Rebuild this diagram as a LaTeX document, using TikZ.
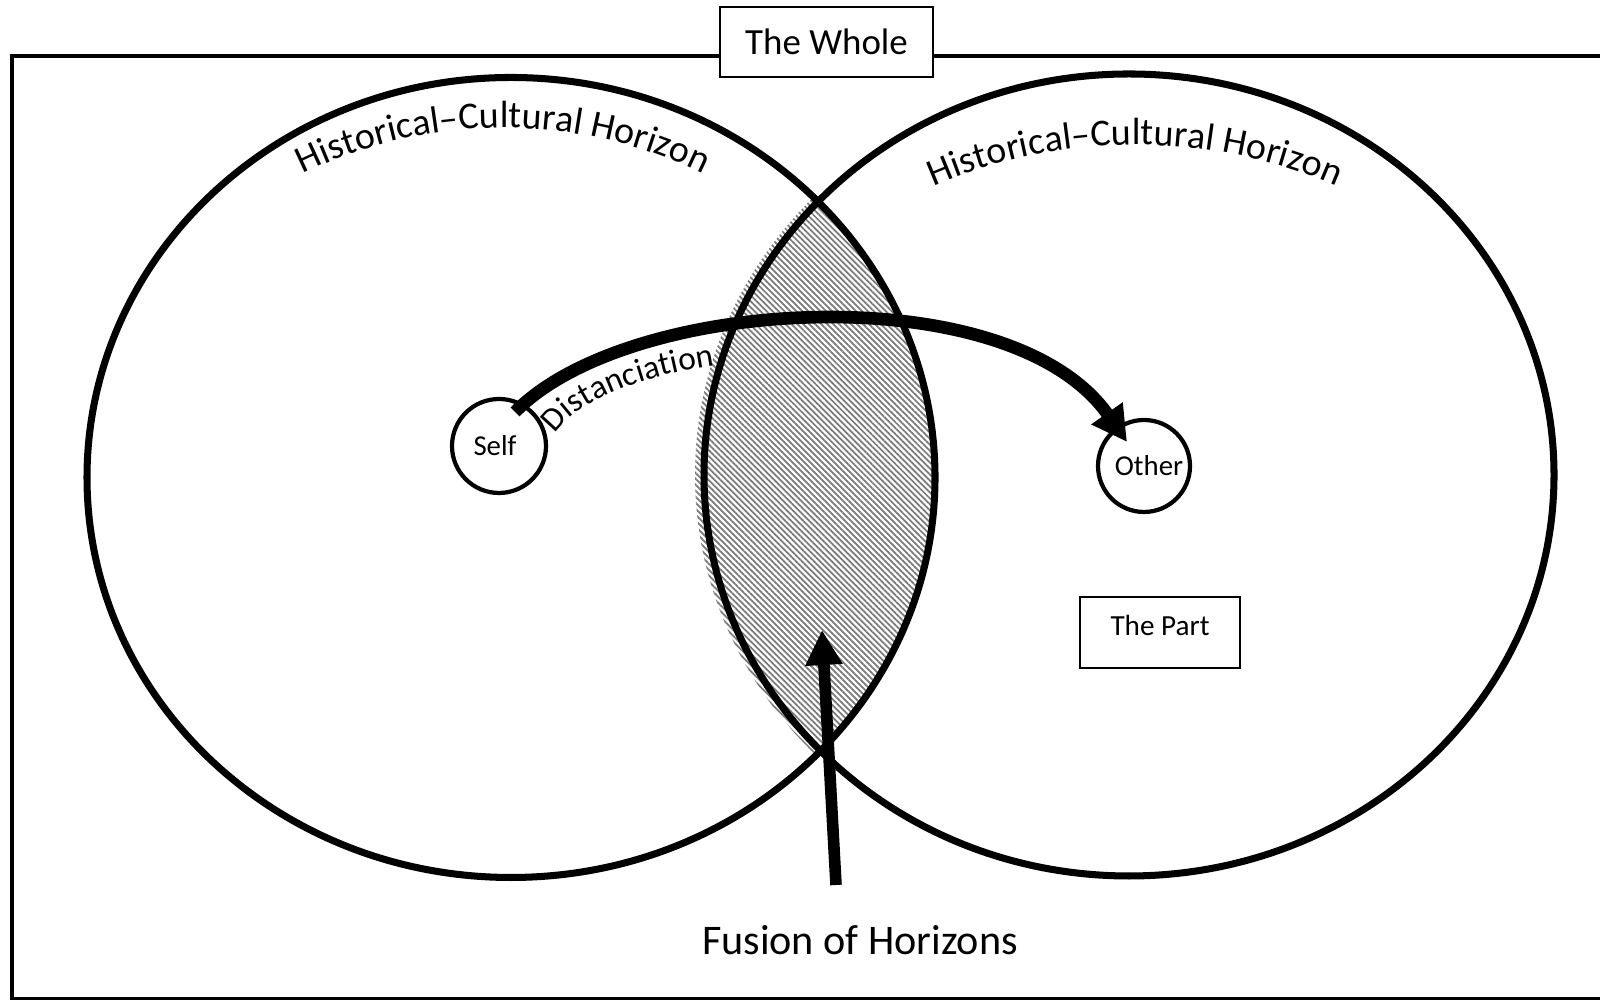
\documentclass[tikz,border=0pt]{standalone}
\usepackage{fontspec}
\setmainfont{Carlito}
\usepackage{tikz}
\usetikzlibrary{arrows.meta,positioning,patterns.meta,decorations.text}
\definecolor{hatchgray}{HTML}{7A7A7A}
\newcommand{\hcfont}{\fontsize{10.8pt}{13pt}\selectfont}
\tikzset{
  hframe/.style={line width=1.4pt,draw=black},
  hring/.style={line width=2pt,draw=black},
  hlens/.style={pattern={Lines[angle=-45,distance=1.2pt,line width=0.5pt]},pattern color=hatchgray},
  hrect/.style={draw=black,fill=white,line width=0.6pt,inner sep=0pt,align=center},
  hcirc/.style={circle,draw=black,fill=white,line width=1.2pt,inner sep=0pt,font=\fontsize{8.2pt}{10pt}\selectfont},
  harr/.style={-{Triangle[length=3.5mm,width=3.6mm]},line width=3.6pt,draw=black},
  hfuse/.style={-{Triangle[length=3.5mm,width=3.5mm]},line width=3.3pt,draw=black},
  hcurve/.style={decorate,decoration={text along path,text align=center}}
}
\begin{document}
\begin{tikzpicture}
  \useasboundingbox (0,0) rectangle (16,10);
  % the lens where both horizons overlap
  \begin{scope}
    \clip (5.11,5.225) ellipse [x radius=4.24,y radius=4.0];
    \fill[hlens] (11.20,5.25) ellipse [x radius=4.25,y radius=4.01];
  \end{scope}
  \draw[hframe] (16.3,9.44) -- (0.12,9.44) -- (0.12,0.01) -- (16.3,0.01);
  \draw[hring] (5.11,5.225) ellipse [x radius=4.24,y radius=4.0];
  \draw[hring] (11.29,5.25) ellipse [x radius=4.25,y radius=4.01];
  \path[hcurve,decoration={text={|\hcfont|Historical–Cultural Horizon}},shift={(5.03,5.23)}]
    (150:4.03 and 3.49) arc[start angle=150,end angle=30,x radius=4.03,y radius=3.49];
  \path[hcurve,decoration={text={|\hcfont|Historical–Cultural Horizon}},shift={(11.35,5.25)}]
    (150:4.15 and 3.30) arc[start angle=150,end angle=30,x radius=4.15,y radius=3.30];
  \node[hrect,minimum width=2.13cm,minimum height=0.70cm,font=\fontsize{10.5pt}{12pt}\selectfont] (whole) at (8.265,9.58) {The Whole};
  \node[hrect,minimum width=1.60cm,minimum height=0.71cm,text depth=0.15cm,font=\fontsize{8.3pt}{10pt}\selectfont] (part) at (11.60,3.675) {The Part};
  \node[hcirc,minimum size=0.94cm] (self) at (4.99,5.54) {\hspace*{-0.08cm}Self};
  \node[hcirc,minimum size=0.92cm] (other) at (11.44,5.34) {\hspace*{0.1cm}Other};
  \draw[harr] ([shift={(0.16,0.34)}]self.center) .. controls (6.30,7.05) and (10.10,7.25) .. ([shift={(-0.17,0.24)}]other.center);
  \path[decorate,decoration={text along path,text={|\fontsize{9.5pt}{11pt}\selectfont|Distanciation}}]
    (5.55,5.66) .. controls (5.80,6.02) and (6.50,6.28) .. (7.40,6.38);
  \node[anchor=base,font=\fontsize{12pt}{14pt}\selectfont] (fusion) at (8.60,0.45) {Fusion of Horizons};
  \coordinate (fusebase) at (8.36,1.15);
  \coordinate (fusetip) at (8.22,3.70);
  \draw[hfuse] (fusebase) -- (fusetip);
\end{tikzpicture}
\end{document}
